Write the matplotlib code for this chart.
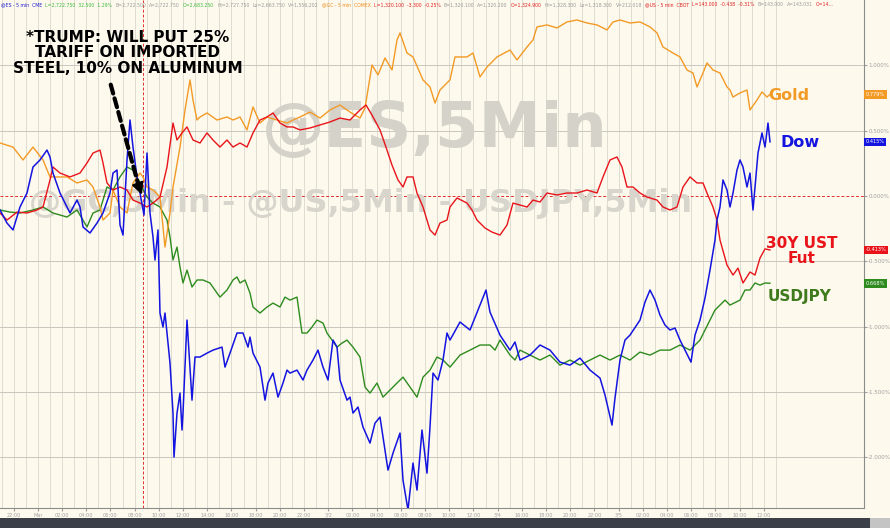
import matplotlib
matplotlib.use("Agg")
import matplotlib.pyplot as plt
from matplotlib.patches import Rectangle
import numpy as np

# x = 5-minute bar index, y = % change
gold_x = [0, 13, 23, 33, 43, 50, 67, 77, 87, 93, 100, 103, 110, 113, 120, 127, 133, 140, 143, 147,
          153, 160, 165, 170, 173, 180, 185, 190, 193, 197, 200, 207, 217, 227, 233, 240, 247, 253,
          260, 267, 277, 287, 293, 300, 310, 320, 330, 340, 350, 360, 365, 372, 378, 385, 392, 397,
          400, 407, 413, 423, 430, 435, 440, 450, 455, 467, 473, 480, 487, 497, 510, 517, 527, 533,
          537, 547, 557, 567, 577, 587, 597, 607, 613, 620, 630, 640, 650, 657, 663, 673, 680, 687,
          693, 697, 703, 707, 713, 720, 727, 730, 733, 740, 747, 750, 757, 762, 767, 770]
gold_y = [0.406, 0.375, 0.276, 0.375, 0.276, 0.146, 0.146, 0.100, 0.123, 0.069, -0.084, -0.184,
          -0.130, 0.046, -0.084, -0.130, 0.100, 0.176, 0.146, 0.069, 0.046, -0.008, -0.391, -0.130,
          0.069, 0.375, 0.659, 0.889, 0.735, 0.582, 0.605, 0.636, 0.582, 0.605, 0.582, 0.605, 0.506,
          0.682, 0.559, 0.605, 0.582, 0.559, 0.582, 0.605, 0.643, 0.597, 0.659, 0.697, 0.643, 0.597,
          0.674, 1.003, 0.927, 1.057, 0.965, 1.195, 1.249, 1.095, 1.065, 0.889, 0.835, 0.712, 0.812,
          0.889, 1.065, 1.065, 1.095, 0.912, 0.988, 1.065, 1.118, 1.042, 1.141, 1.195, 1.295, 1.310,
          1.287, 1.333, 1.348, 1.325, 1.310, 1.272, 1.333, 1.348, 1.325, 1.333, 1.295, 1.249, 1.141,
          1.095, 1.065, 0.965, 0.942, 0.835, 0.942, 1.019, 0.965, 0.942, 0.835, 0.812, 0.758, 0.789,
          0.812, 0.659, 0.735, 0.797, 0.758, 0.779]

ust_x = [0, 7, 17, 27, 37, 43, 50, 53, 60, 70, 80, 87, 93, 100, 103, 107, 113, 120, 127, 133, 140,
         147, 153, 160, 167, 173, 177, 182, 187, 193, 200, 207, 213, 220, 227, 233, 240, 247, 253,
         260, 267, 273, 280, 287, 293, 300, 310, 320, 330, 340, 350, 360, 366, 372, 380, 387, 392,
         398, 403, 407, 413, 417, 423, 430, 435, 440, 447, 450, 457, 467, 472, 477, 485, 492, 500,
         507, 513, 520, 527, 533, 540, 547, 557, 567, 577, 587, 597, 603, 610, 617, 622, 627, 633,
         640, 647, 657, 663, 670, 677, 683, 690, 697, 703, 707, 713, 717, 720, 727, 733, 738, 743,
         750, 755, 760, 765, 770]
ust_y = [-0.130, -0.184, -0.123, -0.130, -0.107, -0.084, 0.123, 0.222, 0.176, 0.146, 0.176, 0.253,
         0.329, 0.352, 0.253, 0.100, 0.046, 0.069, 0.046, -0.031, -0.054, -0.084, -0.054, -0.008,
         0.222, 0.559, 0.429, 0.483, 0.529, 0.429, 0.406, 0.483, 0.429, 0.375, 0.429, 0.375, 0.406,
         0.375, 0.483, 0.582, 0.605, 0.636, 0.559, 0.529, 0.529, 0.506, 0.521, 0.544, 0.567, 0.597,
         0.582, 0.659, 0.697, 0.620, 0.506, 0.352, 0.237, 0.123, 0.069, 0.146, 0.146, 0.023, -0.084,
         -0.260, -0.299, -0.207, -0.184, -0.084, -0.015, -0.054, -0.107, -0.184, -0.245, -0.276,
         -0.299, -0.222, -0.054, -0.069, -0.084, -0.031, -0.046, 0.023, 0.008, 0.023, 0.023, 0.046,
         0.023, 0.146, 0.276, 0.299, 0.222, 0.069, 0.069, 0.023, -0.008, -0.031, -0.084, -0.107,
         -0.084, 0.069, 0.146, 0.100, 0.100, 0.023, -0.084, -0.184, -0.337, -0.529, -0.605, -0.552,
         -0.666, -0.582, -0.605, -0.475, -0.405, -0.413]

dow_x = [0, 7, 13, 20, 27, 33, 37, 40, 47, 50, 53, 60, 67, 70, 77, 80, 83, 90, 97, 103, 110, 113,
         117, 120, 123, 127, 130, 133, 137, 140, 144, 147, 150, 153, 155, 158, 160, 163, 165, 170,
         173, 174, 177, 180, 182, 183, 187, 192, 195, 200, 207, 213, 222, 225, 230, 237, 243, 248,
         250, 253, 260, 265, 268, 273, 278, 283, 287, 290, 297, 303, 307, 313, 318, 323, 328, 333,
         337, 340, 347, 350, 353, 358, 363, 370, 375, 380, 383, 388, 393, 400, 403, 408, 413, 417,
         422, 427, 430, 433, 438, 443, 447, 450, 460, 470, 480, 486, 490, 500, 510, 515, 520, 530,
         540, 550, 560, 570, 580, 590, 600, 605, 612, 615, 620, 625, 630, 640, 645, 650, 655, 660,
         665, 670, 675, 680, 685, 691, 695, 700, 705, 710, 715, 717, 720, 723, 727, 730, 733, 737,
         740, 743, 747, 750, 753, 758, 762, 765, 768, 770]
dow_y = [-0.107, -0.207, -0.260, -0.084, 0.023, 0.222, 0.253, 0.276, 0.352, 0.299, 0.176, 0.023,
         -0.084, -0.130, -0.031, -0.084, -0.237, -0.283, -0.207, -0.130, 0.023, 0.176, 0.199,
         -0.222, -0.299, 0.276, 0.582, 0.375, 0.146, 0.023, -0.146, 0.329, -0.130, -0.314, -0.490,
         -0.260, -0.896, -1.003, -0.896, -1.279, -1.662, -1.999, -1.662, -1.509, -1.792, -1.662,
         -0.950, -1.563, -1.233, -1.233, -1.203, -1.180, -1.157, -1.310, -1.203, -1.049, -1.049,
         -1.157, -1.080, -1.203, -1.310, -1.563, -1.432, -1.356, -1.540, -1.432, -1.333, -1.356,
         -1.333, -1.409, -1.333, -1.256, -1.180, -1.310, -1.409, -1.103, -1.157, -1.409, -1.563,
         -1.540, -1.662, -1.616, -1.769, -1.892, -1.739, -1.693, -1.846, -2.099, -1.969, -1.815,
         -2.175, -2.405, -2.045, -2.252, -1.792, -2.122, -1.769, -1.356, -1.409, -1.256, -1.049,
         -1.103, -0.965, -1.026, -0.835, -0.720, -0.889, -1.065, -1.180, -1.118, -1.256, -1.218,
         -1.141, -1.180, -1.272, -1.295, -1.241, -1.333, -1.394, -1.524, -1.754, -1.547, -1.256,
         -1.103, -1.065, -0.950, -0.812, -0.720, -0.797, -0.912, -0.988, -1.026, -1.011, -1.103,
         -1.180, -1.272, -1.065, -0.950, -0.781, -0.567, -0.337, -0.184, -0.084, 0.123, 0.046,
         -0.084, 0.023, 0.199, 0.276, 0.222, 0.069, 0.176, -0.107, 0.329, 0.483, 0.375, 0.559, 0.415]

jpy_x = [0, 10, 20, 33, 43, 53, 67, 77, 87, 93, 100, 107, 113, 120, 127, 133, 140, 147, 153, 160,
         167, 170, 173, 177, 180, 183, 187, 192, 197, 203, 210, 217, 220, 227, 233, 237, 240, 245,
         250, 253, 260, 267, 273, 280, 285, 290, 297, 302, 307, 312, 317, 323, 327, 332, 337, 342,
         347, 353, 360, 365, 370, 377, 383, 390, 397, 403, 410, 417, 423, 430, 437, 443, 450, 460,
         470, 480, 490, 495, 500, 510, 515, 520, 530, 540, 550, 560, 570, 580, 590, 600, 610, 620,
         630, 640, 650, 660, 670, 680, 690, 700, 710, 715, 720, 725, 730, 740, 745, 750, 755, 760,
         765, 770]
jpy_y = [-0.107, -0.123, -0.130, -0.107, -0.084, -0.130, -0.161, -0.107, -0.237, -0.130, -0.107,
         0.069, 0.046, 0.146, 0.222, 0.199, 0.100, -0.008, -0.054, -0.084, -0.184, -0.314, -0.490,
         -0.391, -0.544, -0.666, -0.567, -0.697, -0.643, -0.643, -0.666, -0.743, -0.774, -0.720,
         -0.643, -0.620, -0.666, -0.643, -0.743, -0.850, -0.896, -0.850, -0.820, -0.850, -0.774,
         -0.797, -0.774, -1.049, -1.049, -1.003, -0.950, -0.973, -1.049, -1.103, -1.157, -1.126,
         -1.103, -1.157, -1.233, -1.463, -1.509, -1.432, -1.540, -1.486, -1.432, -1.387, -1.463,
         -1.540, -1.387, -1.333, -1.233, -1.256, -1.310, -1.218, -1.180, -1.141, -1.141, -1.180,
         -1.103, -1.218, -1.256, -1.180, -1.218, -1.256, -1.218, -1.295, -1.256, -1.295, -1.256,
         -1.218, -1.256, -1.218, -1.256, -1.195, -1.218, -1.180, -1.180, -1.141, -1.180, -1.103,
         -0.950, -0.873, -0.835, -0.797, -0.835, -0.797, -0.720, -0.720, -0.666, -0.682, -0.666,
         -0.668]

tick_labels = ["22:00", "Mar", "02:00", "04:00", "06:00", "08:00", "10:00", "12:00", "14:00",
               "16:00", "18:00", "20:00", "22:00", "3/2", "02:00", "04:00", "06:00", "08:00",
               "10:00", "12:00", "3/4", "16:00", "18:00", "20:00", "22:00", "3/5", "02:00",
               "04:00", "06:00", "08:00", "10:00", "12:00"]
y_levels = [1.0, 0.5, 0.0, -0.5, -1.0, -1.5, -2.0]
tag_text = ["0.779%", "0.415%", "-0.413%", "0.668%"]

header = [
    ("@ES - 5 min  CME", "#2020d0"), ("L=2,722.750  32.500  1.29%", "#3cb83c"),
    ("B=2,722.500", "#9a9a9a"), ("A=2,722.750", "#9a9a9a"), ("O=2,683.250", "#3cb83c"),
    ("Hi=2,727.750", "#9a9a9a"), ("Lo=2,663.750", "#9a9a9a"), ("V=1,556,202", "#9a9a9a"),
    ("@GC - 5 min  COMEX", "#f08c1c"), ("L=1,320.100  -3.300  -0.25%", "#e02020"),
    ("B=1,320.100", "#9a9a9a"), ("A=1,320.200", "#9a9a9a"), ("O=1,324.900", "#e02020"),
    ("Hi=1,328.300", "#9a9a9a"), ("Lo=1,318.300", "#9a9a9a"), ("V=212,018", "#9a9a9a"),
    ("@US - 5 min  CBOT", "#e02020"), ("L=143.000  -0.438  -0.31%", "#e02020"),
    ("B=143.000", "#9a9a9a"), ("A=143.031", "#9a9a9a"), ("O=14...", "#e02020"),
]

BG = "#fdf9ed"
GOLD = "#f39a25"
RED = "#e8141a"
BLUE = "#1414e0"
GREEN = "#2e8b1e"

W, H = 890, 528
fig = plt.figure(figsize=(W / 100, H / 100), dpi=100)
fig.patch.set_facecolor(BG)
ax = fig.add_axes([0, 20 / H, 864 / W, 508 / H])
ax.set_facecolor(BG)
ax.set_xlim(0, 864)
ax.set_ylim(-2.389, 1.501)

# grid: hourly verticals, 0.5% horizontals
hour = 12.1
for k in range(65):
    ax.axvline(1.5 + hour * k, color="#dad7cc", lw=0.6, zorder=0)
for lv in y_levels:
    if lv == 0:
        ax.axhline(lv, color="#e03030", lw=0.7, ls=(0, (3, 2)), zorder=1)
    else:
        ax.axhline(lv, color="#c9c7c0", lw=0.7, zorder=0)
ax.axvline(143, color="#e03030", lw=0.7, ls=(0, (3, 2)), zorder=1)

# watermarks
ax.text(0.503, 0.745, "@ES,5Min", transform=ax.transAxes, ha="center", va="center",
        fontsize=45, fontweight="bold", color="#d5d2ca", zorder=1)
ax.text(0.417, 0.6, "@GC,5Min - @US,5Min - USDJPY,5Min", transform=ax.transAxes,
        ha="center", va="center", fontsize=23, fontweight="bold", color="#d8d5cd", zorder=1)

ax.plot(jpy_x, jpy_y, color=GREEN, lw=1.0, zorder=3)
ax.plot(gold_x, gold_y, color=GOLD, lw=1.0, zorder=3)
ax.plot(ust_x, ust_y, color=RED, lw=1.0, zorder=3)
ax.plot(dow_x, dow_y, color=BLUE, lw=1.1, zorder=4)

# axes styling
for side in ["left", "top"]:
    ax.spines[side].set_visible(False)
for side in ["right", "bottom"]:
    ax.spines[side].set_color("#8c8c8c")
    ax.spines[side].set_linewidth(0.8)
ax.yaxis.tick_right()
ax.set_yticks(y_levels)
ax.set_yticklabels([f"{v:.3f}%" for v in y_levels])
ax.tick_params(axis="y", length=2, pad=1, labelsize=4, colors="#a0a0a0")
ax.set_xticks([1.5 + hour * (2 * j + 1) for j in range(len(tick_labels))])
ax.set_xticklabels(tick_labels)
ax.tick_params(axis="x", length=2, pad=1.5, labelsize=3.6, colors="#a0a0a0")

# last-value tags on the right axis
ends = [gold_y[-1], dow_y[-1], ust_y[-1], jpy_y[-1]]
for val, txt, col in zip(ends, tag_text, [GOLD, BLUE, RED, GREEN]):
    ax.text(1.002, val, txt, transform=ax.get_yaxis_transform(), ha="left", va="center",
            fontsize=3.6, color="white", clip_on=False,
            bbox=dict(boxstyle="square,pad=0.35", fc=col, ec="none"))

# series labels
ax.text(768, 0.766, "Gold", color=GOLD, fontsize=11.5, fontweight="bold", va="center")
ax.text(780, 0.406, "Dow", color=BLUE, fontsize=11.5, fontweight="bold", va="center")
ax.text(802, -0.421, "30Y UST\nFut", color=RED, fontsize=11, fontweight="bold",
        va="center", ha="center", linespacing=1.0)
ax.text(768, -0.766, "USDJPY", color="#3f7a1c", fontsize=11, fontweight="bold", va="center")

# headline annotation with dashed arrow
ax.text(0.148, 0.896, "*TRUMP: WILL PUT 25%\nTARIFF ON IMPORTED\nSTEEL, 10% ON ALUMINUM",
        transform=ax.transAxes, ha="center", va="center", fontsize=11, fontweight="bold",
        color="black", linespacing=1.05, zorder=5)
ax.annotate("", xy=(139, 0.07), xytext=(110, 0.873),
            arrowprops=dict(arrowstyle="-", lw=3, ls=(0, (2.2, 1.2)), color="black"), zorder=5)
ax.annotate("", xy=(143, -0.01), xytext=(138, 0.09),
            arrowprops=dict(arrowstyle="-|>,head_width=0.35,head_length=0.7", lw=1.5,
                            color="black"), zorder=5)

# header quote strip, squeezed to end before the right axis
renderer = fig.canvas.get_renderer()
x = 1 / W
for text, col in header:
    t = fig.text(x, 1 - 5 / H, text, color=col, fontsize=3.3, ha="left", va="center")
    x += (t.get_window_extent(renderer).width + 3) / W

# bottom dark bar with scrollbar thumb
fig.patches.append(Rectangle((0, 0), 1, 10 / H, transform=fig.transFigure,
                             fc="#3b4048", ec="none"))
fig.patches.append(Rectangle((870 / W, 0), 20 / W, 10 / H, transform=fig.transFigure,
                             fc="#c4c4c4", ec="none"))

fig.savefig("out.png", dpi=100, facecolor=BG)
